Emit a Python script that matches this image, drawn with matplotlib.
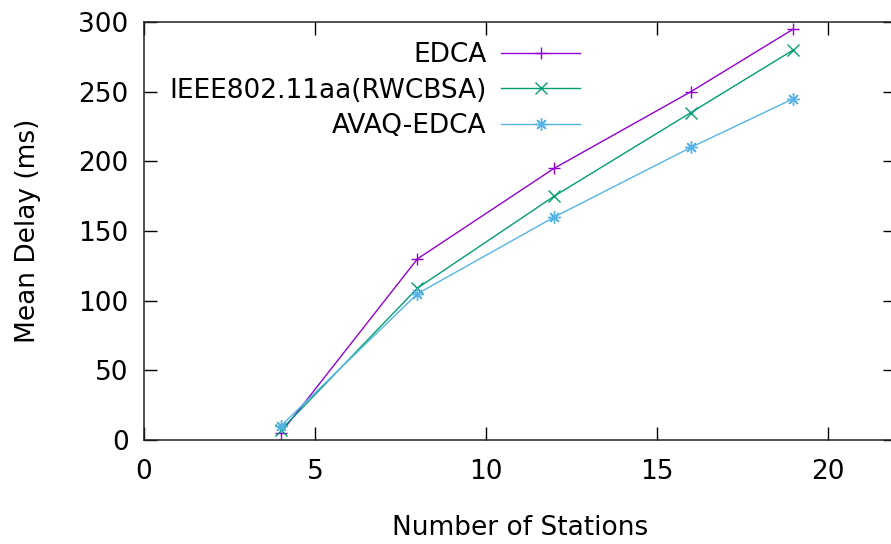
import matplotlib
matplotlib.use("Agg")
import matplotlib.pyplot as plt

stations = [4, 8, 12, 16, 19]
edca = [5, 130, 195, 250, 295]
rwcbsa = [7, 109, 175, 235, 280]
avaq = [10, 105, 160, 210, 245]

labels = ["EDCA", "IEEE802.11aa(RWCBSA)", "AVAQ-EDCA"]
colors = ["#9400D3", "#009E73", "#56B4E9"]
markers = ["+", "x", (8, 2, 0)]

x_ticks = [0, 5, 10, 15, 20]
y_ticks = [0, 50, 100, 150, 200, 250, 300]

FS = 19
plt.rcParams['font.family'] = ['DejaVu Sans']
fig = plt.figure(figsize=(8.91, 5.44), dpi=100)
ax = fig.add_axes([144/891, 104/544, 752/891, 418/544])

for ys, lab, c, m in zip([edca, rwcbsa, avaq], labels, colors, markers):
    ax.plot(stations, ys, color=c, marker=m, markersize=9, markeredgewidth=1.0,
            linewidth=1.0, label=lab)

ax.set_xlim(0, 22)
ax.set_ylim(0, 300)
ax.set_xticks(x_ticks)
ax.set_yticks(y_ticks)
ax.tick_params(direction='in', length=9.4, width=1, top=True, right=True,
               labelsize=FS, color='black')
ax.tick_params(axis='y', pad=11)
ax.tick_params(axis='x', pad=14)
for s in ax.spines.values():
    s.set_linewidth(1.1)
    s.set_color('#222222')

ax.set_xlabel("Number of Stations", fontsize=FS, labelpad=21)
ax.set_ylabel("Mean Delay (ms)", fontsize=FS, labelpad=27)

leg = ax.legend(loc='upper right', bbox_to_anchor=(0.58, 0.952), frameon=False,
                markerfirst=False, fontsize=FS, handlelength=3.0,
                handletextpad=0.55, labelspacing=0.36, borderpad=0, borderaxespad=0)

fig.savefig("out.png", dpi=100)
